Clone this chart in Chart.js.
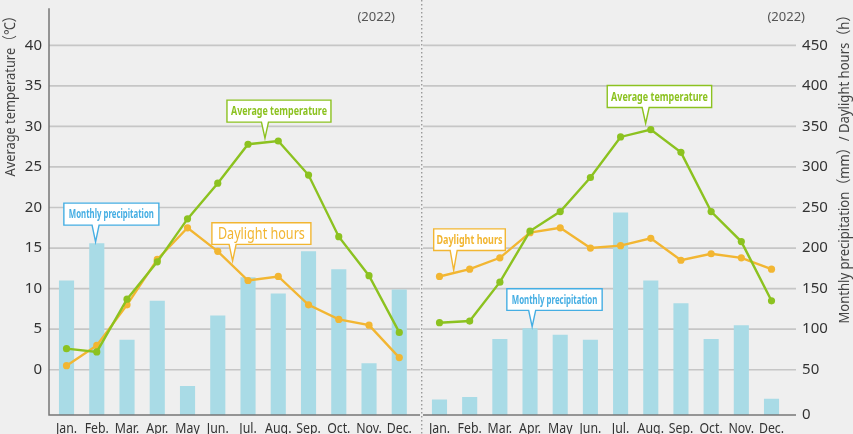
<!DOCTYPE html>
<html><head><meta charset="utf-8">
<script src="https://cdn.jsdelivr.net/npm/chart.js@4/dist/chart.umd.min.js"></script>
<style>
html,body{margin:0;padding:0;background:#efefef;width:853px;height:434px;overflow:hidden}
canvas{position:absolute;top:0}
#cL{left:0}
#cR{left:421px}
</style></head><body>
<canvas id="cL" width="425" height="434"></canvas>
<canvas id="cR" width="432" height="434"></canvas>
<script>
// ---------- data ----------
const months = ['Jan.','Feb.','Mar.','Apr.','May','Jun.','Jul.','Aug.','Sep.','Oct.','Nov.','Dec.'];
const tempTicks = [0,5,10,15,20,25,30,35,40];
const amountTicks = [0,50,100,150,200,250,300,350,400,450];

const leftTemp  = [2.6, 2.2, 8.7, 13.3, 18.6, 23.0, 27.8, 28.2, 24.0, 16.4, 11.6, 4.6];
const leftSun   = [55, 80, 130, 186, 225, 196, 160, 165, 130, 112, 105, 65];
const leftRain  = [160, 206, 87, 135, 32, 117, 164, 144, 196, 174, 58, 149];

const rightTemp = [5.8, 6.0, 10.8, 17.1, 19.5, 23.7, 28.7, 29.6, 26.8, 19.5, 15.8, 8.5];
const rightSun  = [165, 174, 188, 219, 225, 200, 203, 212, 185, 193, 188, 174];
const rightRain = [17, 20, 88, 101, 93, 87, 244, 160, 132, 88, 105, 18];

const yearLabel = '(2022)';
const tempTitle = 'Average temperature（℃）';
const amountTitle = 'Monthly precipitation（mm）/ Daylight hours（h）';

// ---------- scale set-up ----------
const TEMP_MIN = -5.58, TEMP_MAX = 44.56;
const SPLIT_AT = 50;                         // amount axis: 0-50 is a compressed band
const AMOUNT_LOW = SPLIT_AT + 10 * TEMP_MIN; // virtual linear value at the bottom
const AMOUNT_MAX = SPLIT_AT + 10 * TEMP_MAX;

class SplitLinearScale extends Chart.LinearScale {
  _virt(v) {
    return v >= SPLIT_AT ? v : AMOUNT_LOW + (v - this.min) * (SPLIT_AT - AMOUNT_LOW) / (SPLIT_AT - this.min);
  }
  getPixelForValue(value) {
    if (value === null || value === undefined || Number.isNaN(+value)) return NaN;
    const v = this._virt(+value);
    return this.getPixelForDecimal((v - AMOUNT_LOW) / (this.max - AMOUNT_LOW));
  }
  getValueForPixel(pixel) {
    const v = AMOUNT_LOW + this.getDecimalForPixel(pixel) * (this.max - AMOUNT_LOW);
    return v >= SPLIT_AT ? v : this.min + (v - AMOUNT_LOW) * (SPLIT_AT - this.min) / (SPLIT_AT - AMOUNT_LOW);
  }
}
SplitLinearScale.id = 'splitLinear';
SplitLinearScale.defaults = Chart.LinearScale.defaults;
Chart.register(SplitLinearScale);

// ---------- styles ----------
const GREEN = '#8cc220', ORANGE = '#f2b632', BLUE = '#45aee3', BAR = '#a9dbe6';
const FONT = '"Noto Sans", "Noto Sans CJK JP", sans-serif';

function fitText(ctx, text, x, y, targetW, font, color, align, rot, sx) {
  ctx.save();
  ctx.font = font;
  const mw = ctx.measureText(text).width;
  const s = targetW ? targetW / mw : (sx || 1);
  ctx.translate(x, y);
  if (rot) ctx.rotate(rot);
  ctx.scale(s, 1);
  ctx.textAlign = align || 'center';
  ctx.textBaseline = 'middle';
  ctx.fillStyle = color;
  ctx.fillText(text, 0, 0);
  ctx.restore();
}

function drawCallout(ctx, chart, c) {
  const xs = chart.scales.x, ys = chart.scales[c.axis];
  const tx = xs.getPixelForValue(c.index), ty = ys.getPixelForValue(c.value);
  const bx = tx + c.dx, by = ty + c.dy, bw = c.w, bh = c.h, bb = by + bh, half = 3.5;
  ctx.save();
  ctx.lineWidth = 1.4;
  ctx.strokeStyle = c.color;
  ctx.fillStyle = '#ffffff';
  ctx.beginPath();
  ctx.moveTo(bx, by); ctx.lineTo(bx + bw, by); ctx.lineTo(bx + bw, bb);
  ctx.lineTo(tx + half, bb); ctx.lineTo(tx, ty); ctx.lineTo(tx - half, bb);
  ctx.lineTo(bx, bb); ctx.closePath();
  ctx.fill(); ctx.stroke();
  ctx.restore();
  fitText(ctx, c.text, bx + bw / 2, by + bh / 2 + 0.5, c.tw, c.font, c.color, 'center');
}

function makeDecor(cfg) {
  return {
    id: 'decor' + cfg.name,
    beforeDatasetsDraw(chart) {
      const {ctx, chartArea: a} = chart;
      const y1 = chart.scales.y1;
      ctx.save();
      ctx.strokeStyle = '#c6c6c6';
      ctx.lineWidth = 1.7;
      amountTicks.forEach(v => {
        if (v <= 0) return;
        const y = y1.getPixelForValue(v);
        ctx.beginPath(); ctx.moveTo(a.left - cfg.extL, y); ctx.lineTo(a.right + cfg.extR, y); ctx.stroke();
      });
      ctx.restore();
    },
    afterDatasetsDraw(chart) {
      const {ctx, chartArea: a} = chart;
      ctx.save();
      ctx.strokeStyle = '#777';
      ctx.lineWidth = 1.5;
      ctx.beginPath();
      ctx.moveTo(a.left - cfg.extL, a.bottom); ctx.lineTo(a.right + cfg.extR, a.bottom);
      if (cfg.leftAxis) { ctx.moveTo(a.left - cfg.extL, a.top); ctx.lineTo(a.left - cfg.extL, a.bottom + 0.7); }
      ctx.stroke();
      if (cfg.separator) {
        ctx.strokeStyle = '#9a9a9a';
        ctx.lineWidth = 1.4;
        ctx.setLineDash([1.5, 2.5]);
        const sx = a.right + cfg.separator;
        ctx.beginPath(); ctx.moveTo(sx, 0); ctx.lineTo(sx, chart.height); ctx.stroke();
      }
      ctx.restore();
      // month labels
      const xs = chart.scales.x;
      months.forEach((m, i) => {
        fitText(ctx, m, xs.getPixelForValue(i), a.bottom + 14, null, '14px ' + FONT, '#333', 'center', 0, 0.88);
      });
      cfg.callouts.forEach(c => drawCallout(ctx, chart, c));
      fitText(ctx, yearLabel, cfg.year.x, cfg.year.y, null, '13px ' + FONT, '#555', 'right');
      fitText(ctx, cfg.title.text, cfg.title.x, cfg.title.y, cfg.title.len, '15px ' + FONT, '#444', 'center', -Math.PI / 2);
    }
  };
}

function makeChart(id, temp, sun, rain, side, cfg) {
  const tickFont = {family: FONT, size: 15};
  const fixFit = s => {
    if (s.options.display) s.width = cfg.axisW;
    s.paddingTop = 0; s.paddingBottom = 0;
  };
  return new Chart(document.getElementById(id), {
    data: {
      labels: months,
      datasets: [
        {type: 'line', label: 'Average temperature', data: temp, yAxisID: 'y', order: 0,
         borderColor: GREEN, backgroundColor: GREEN, borderWidth: 2.4, pointRadius: 3.6,
         pointBackgroundColor: GREEN, pointBorderWidth: 0, tension: 0},
        {type: 'line', label: 'Daylight hours', data: sun, yAxisID: 'y1', order: 1,
         borderColor: ORANGE, backgroundColor: ORANGE, borderWidth: 2.4, pointRadius: 3.6,
         pointBackgroundColor: ORANGE, pointBorderWidth: 0, tension: 0},
        {type: 'bar', label: 'Monthly precipitation', data: rain, yAxisID: 'y1', order: 2,
         backgroundColor: BAR, borderWidth: 0, barPercentage: 0.5, categoryPercentage: 1.0}
      ]
    },
    options: {
      responsive: false, animation: false, events: [],
      layout: {padding: cfg.padding, autoPadding: false},
      plugins: {legend: {display: false}, tooltip: {enabled: false}},
      scales: {
        x: {type: 'category', offset: true, display: false},
        y: {type: 'linear', position: 'left', min: TEMP_MIN, max: TEMP_MAX, display: side === 'left',
            afterBuildTicks: s => { s.ticks = tempTicks.map(v => ({value: v})); },
            afterFit: fixFit,
            grid: {display: false, drawTicks: false}, border: {display: false},
            ticks: {font: tickFont, color: '#333', padding: 9.4}},
        y1: {type: 'splitLinear', position: 'right', min: 0, max: AMOUNT_MAX, display: side === 'right',
             afterBuildTicks: s => { s.ticks = amountTicks.map(v => ({value: v})); },
             afterFit: fixFit,
             grid: {display: false, drawTicks: false}, border: {display: false},
             ticks: {font: tickFont, color: '#333', padding: 15.5}}
      }
    },
    plugins: [makeDecor(cfg)]
  });
}

makeChart('cL', leftTemp, leftSun, leftRain, 'left', {
  name: 'L', padding: {left: 0, right: 10.6, top: 8.3, bottom: 19}, axisW: 51.4,
  extL: 2.4, extR: 5.6, leftAxis: true, separator: 7.3,
  year: {x: 395, y: 17}, title: {text: tempTitle, x: 11, y: 93, len: 167},
  callouts: [
    {text: 'Average temperature', color: GREEN, axis: 'y', index: 6.56, value: 28.55,
     dx: -38, dy: -38, w: 104, h: 22, tw: 96, font: 'bold 12.5px ' + FONT},
    {text: 'Monthly precipitation', color: BLUE, axis: 'y1', index: 0.96, value: 207.7,
     dx: -31.7, dy: -38.7, w: 95, h: 22, tw: 85, font: 'bold 12.5px ' + FONT},
    {text: 'Daylight hours', color: ORANGE, axis: 'y1', index: 5.49, value: 184.3,
     dx: -20.7, dy: -38, w: 99, h: 21.6, tw: 87, font: '16px ' + FONT}
  ]
});

makeChart('cR', rightTemp, rightSun, rightRain, 'right', {
  name: 'R', padding: {left: 3.4, right: 0, top: 8.3, bottom: 19}, axisW: 66.4,
  extL: 1.4, extR: 9.4, leftAxis: false, separator: 0,
  year: {x: 384, y: 17}, title: {text: amountTitle, x: 424, y: 166, len: 315},
  callouts: [
    {text: 'Average temperature', color: GREEN, axis: 'y', index: 6.83, value: 30.36,
     dx: -38.4, dy: -38, w: 104.4, h: 22, tw: 96.7, font: 'bold 12.5px ' + FONT},
    {text: 'Daylight hours', color: ORANGE, axis: 'y1', index: 0.47, value: 172.8,
     dx: -20, dy: -41.3, w: 71.6, h: 21.6, tw: 66, font: 'bold 12.5px ' + FONT},
    {text: 'Monthly precipitation', color: BLUE, axis: 'y1', index: 3.07, value: 103,
     dx: -25.3, dy: -38, w: 95.3, h: 21.6, tw: 85.6, font: 'bold 12.5px ' + FONT}
  ]
});
</script>
</body></html>
